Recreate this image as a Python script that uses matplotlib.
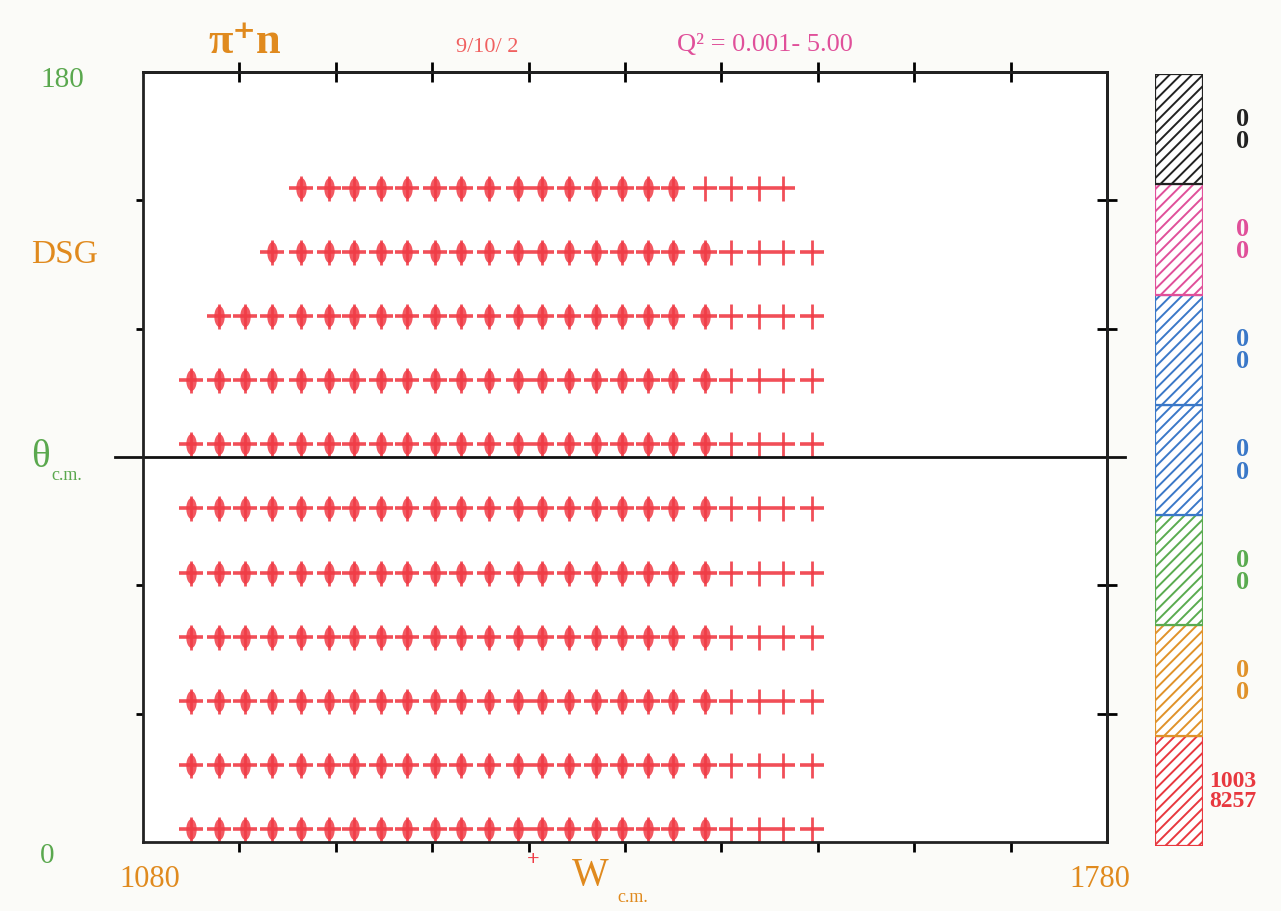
import matplotlib
matplotlib.use('Agg')
import matplotlib.pyplot as plt
from matplotlib.lines import Line2D
import numpy as np

# data
w_bins = [1115, 1135, 1154, 1174, 1195, 1215, 1233, 1253, 1272, 1292, 1311, 1331,
          1352, 1370, 1389, 1409, 1428, 1447, 1465, 1488, 1507, 1527, 1545, 1566]
theta_rows = [3, 18, 33, 48, 63, 78, 93, 108, 123, 138, 153]
# first / last bin index filled in each row
row_first = [0, 0, 0, 0, 0, 0, 0, 0, 1, 3, 4]
row_last = [23, 23, 23, 23, 23, 23, 23, 23, 23, 23, 22]

key_colors = ['#e8383f', '#e0922a', '#5aab50', '#3a78c8', '#3a78c8', '#e0509a', '#222222']
key_top = ['1003', '0', '0', '0', '0', '0', '0']
key_bottom = ['8257', '0', '0', '0', '0', '0', '0']

serif = ['Liberation Serif', 'DejaVu Serif']
orange = '#e08a1e'
green = '#5aa84e'
red = '#f03c46'

plt.rcParams['font.family'] = serif
plt.rcParams['hatch.linewidth'] = 1.4

W, H = 1281, 912
fig = plt.figure(figsize=(W / 100, H / 100), dpi=100)
fig.patch.set_facecolor('#fbfbf8')

def fx(px):
    return px / W

def fy(py):
    return 1 - py / H

ax = fig.add_axes([fx(143), fy(843), fx(1107) - fx(143), fy(73) - fy(843)])
ax.set_facecolor('white')
ax.set_xlim(1080, 1780)
ax.set_ylim(0, 180)

# vertical blob marker
t = np.linspace(0, 2 * np.pi, 30)
blob = np.c_[0.5 * np.cos(t), np.sin(t)]

for th, i0, i1 in zip(theta_rows, row_first, row_last):
    xs = w_bins[i0:i1 + 1]
    ys = [th] * len(xs)
    ax.plot(xs, ys, ls='none', marker='_', ms=17, mew=2.6, color=red, alpha=0.9)
    ax.plot(xs, ys, ls='none', marker='|', ms=18, mew=2.0, color=red, alpha=0.9)
    ax.plot(xs[:-4], ys[:-4], ls='none', marker=blob, ms=15, mew=0, color=red, alpha=0.85)

for s in ax.spines.values():
    s.set_linewidth(2)
    s.set_color('#222222')

xt = [1150, 1220, 1290, 1360, 1430, 1500, 1570, 1640, 1710]
yt = [30, 60, 120, 150]
ax.set_xticks(xt)
ax.set_yticks(yt)
ax.tick_params(axis='x', direction='out', length=7, width=2, labelbottom=False)
ax.tick_params(axis='y', direction='out', length=5, width=2, labelleft=False)

top = ax.secondary_xaxis('top')
top.set_xticks(xt)
top.tick_params(direction='inout', length=14, width=2, labeltop=False)
top.spines['top'].set_linewidth(2)
right = ax.secondary_yaxis('right')
right.set_yticks(yt)
right.tick_params(direction='inout', length=14, width=2, labelright=False)
right.spines['right'].set_linewidth(2)

ax.add_line(Line2D([-0.029, 1.019], [0.5, 0.5], transform=ax.transAxes,
                   color='#111111', lw=2, clip_on=False))

# colour key on the right
kax = fig.add_axes([fx(1155), fy(847), fx(1203) - fx(1155), fy(75) - fy(847)])
kax.set_xlim(0, 1)
kax.set_ylim(0, len(key_colors))
kax.axis('off')
for i, c in enumerate(key_colors):
    kax.bar(0.5, 1, bottom=i, width=1, facecolor='white', edgecolor=c,
            hatch='///', lw=1.6)
    big = key_top[i] != '0'
    kax.text(1.62 if big else 1.83, i + 0.5, key_top[i] + '\n' + key_bottom[i],
             color=c, fontsize=17 if big else 19, fontweight='bold',
             ha='center', va='center', linespacing=0.95, transform=kax.transData,
             clip_on=False)

# labels round the frame
fig.text(fx(245), fy(42), 'π⁺n', color=orange, fontsize=32, fontweight='bold',
         ha='center', va='center', family=serif)
fig.text(fx(487), fy(47), '9/10/ 2', color='#f06060', fontsize=16,
         ha='center', va='center')
fig.text(fx(765), fy(45), 'Q² = 0.001- 5.00', color='#e0509a', fontsize=19,
         ha='center', va='center')
fig.text(fx(62), fy(80), '180', color=green, fontsize=21, ha='center', va='center')
fig.text(fx(65), fy(255), 'DSG', color=orange, fontsize=24, ha='center', va='center')
fig.text(fx(40), fy(458), 'θ', color=green, fontsize=28, ha='center', va='center')
fig.text(fx(67), fy(476), 'c.m.', color=green, fontsize=13, ha='center', va='center')
fig.text(fx(47), fy(856), '0', color=green, fontsize=21, ha='center', va='center')
fig.text(fx(150), fy(880), '1080', color=orange, fontsize=22, ha='center', va='center')
fig.text(fx(1100), fy(880), '1780', color=orange, fontsize=22, ha='center', va='center')
fig.text(fx(533), fy(860), '+', color=red, fontsize=16, fontweight='bold',
         ha='center', va='center')
fig.text(fx(590), fy(876), 'W', color=orange, fontsize=28, ha='center', va='center')
fig.text(fx(633), fy(898), 'c.m.', color=orange, fontsize=13, ha='center', va='center')

fig.savefig('out.png', dpi=100, facecolor=fig.get_facecolor())
